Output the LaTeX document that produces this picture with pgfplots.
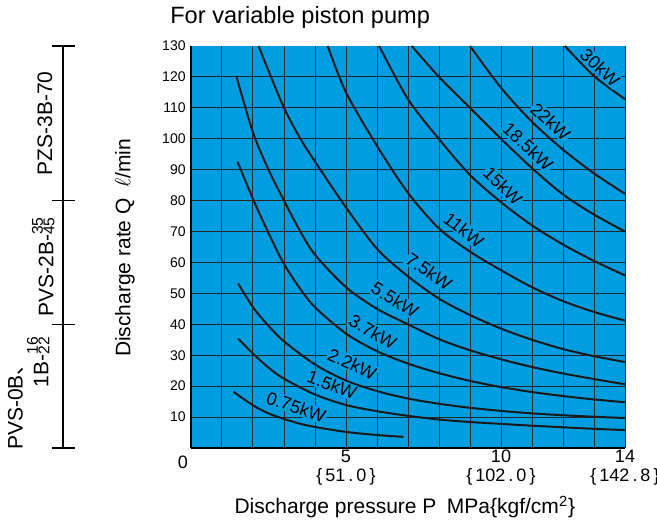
\documentclass[border=0pt]{standalone}
\usepackage{fontspec}
\setmainfont{Liberation Sans}
\newfontfamily\cjk{Noto Sans CJK JP}
\usepackage{pgfplots}
\pgfplotsset{compat=1.18}
\definecolor{bgblue}{RGB}{0,158,224}
\newcommand\stk[2]{\raisebox{-0.5pt}{\fontsize{7.8}{6.2}\selectfont\begin{tabular}[b]{@{}l@{}}#1\\[-1.5pt]#2\end{tabular}}}

\begin{document}
\begin{tikzpicture}
\path[use as bounding box] (-95.5pt,-35.5pt) rectangle (233pt,224pt);
\begin{axis}[
    at={(0,0)}, anchor=origin,
    width=217pt, height=201pt, scale only axis,
    xmin=0, xmax=14, ymin=0, ymax=130,
    axis background/.style={fill=bgblue},
    axis x line*=bottom, axis y line*=left,
    axis line style={line width=0.6pt, black, -},
    xtick={1,...,14},
    xticklabels={,,,,{5\\\{\,51\,.\,0\,\}},,,,,{10\\\{\,102\,.\,0\,\}},,,,{14\\\{\,142\,.\,8\,\}}},
    ytick={10,20,...,120},
    extra y ticks={130}, extra y tick style={grid=none},
    grid=major, major grid style={black!85, line width=0.5pt},
    major tick length=0pt,
    xticklabel style={align=center, font=\fontsize{9}{9.5}\selectfont, inner sep=1pt},
    yticklabel style={font=\fontsize{7}{7}\selectfont, inner sep=2.5pt},
    /pgf/number format/assume math mode=true,
    clip=false,
    kw/.style={black!90, line width=1pt, smooth, mark=none},
  ]
  % 0.75 kW
  \addplot[kw] coordinates {(1.37,18.2)(2,13.8)(2.5,11.2)(3,9.4)(3.5,7.9)(4,6.8)(5,5.2)(6,4.2)(6.85,3.6)};
  % 1.5 kW
  \addplot[kw] coordinates {(1.52,35.4)(2,30.5)(2.5,26)(3,22.4)(4,17.3)(5,13.9)(6,11.9)(7,10.4)(8,9.2)(9,8.4)(10,7.8)(11,7.2)(12,6.7)(13,6.2)(14,5.8)};
  % 2.2 kW
  \addplot[kw] coordinates {(1.52,53.2)(2,45.5)(2.5,39.5)(3,34.5)(4,27)(5,21.8)(6,18.4)(7,16)(8,14.3)(9,13)(10,12)(11,11.2)(12,10.6)(13,10.1)(14,9.7)};
  % 3.7 kW
  \addplot[kw] coordinates {(1.5,92.6)(2,80.5)(2.5,69.5)(3,59.5)(3.5,51.8)(4,45.5)(5,37)(6,31.3)(7,27.3)(8,24.2)(9,21.7)(10,19.7)(11,18.1)(12,16.8)(13,15.7)(14,14.8)};
  % 5.5 kW
  \addplot[kw] coordinates {(1.47,120)(2,102)(2.5,90)(3,80)(3.5,70.5)(4,62.5)(5,52)(6,45)(7,40)(8,35.2)(9,31.6)(10,28.7)(11,26.2)(12,24.1)(13,22.3)(14,20.6)};
  % 7.5 kW
  \addplot[kw] coordinates {(2.18,130)(2.5,122)(3,110)(3.5,100.5)(4,92.6)(5,77.8)(6,64.4)(7,55.5)(8,48.3)(9,43)(10,38.6)(11,35)(12,32)(13,29.7)(14,27.8)};
  % 11 kW
  \addplot[kw] coordinates {(4.41,130)(5,115)(6,97.7)(7,82.5)(8,71)(9,63.5)(10,57.5)(11,52)(12,47.5)(13,44)(14,41.2)};
  % 15 kW
  \addplot[kw] coordinates {(6.07,130)(7,112.8)(8,99.9)(9,88.3)(10,79.5)(11,72)(12,65.8)(13,60.5)(14,55.8)};
  % 18.5 kW
  \addplot[kw] coordinates {(7.12,130)(8,120)(9,110)(10,100)(11,90.5)(12,82)(13,75.5)(14,70)};
  % 22 kW
  \addplot[kw] coordinates {(9,130)(10,116.5)(11,105.5)(12,96.5)(13,88.8)(14,82.2)};
  % 30 kW
  \addplot[kw] coordinates {(12.06,130)(13,120.3)(14,112.8)};

  % curve labels
  \begin{scope}[every node/.style={fill=bgblue, inner sep=0.6pt, font=\fontsize{9}{9}\selectfont}]
    \node[rotate=-19] at (axis cs:3.39,13.3) {0.75kW};
    \node[rotate=-21] at (axis cs:4.55,20.4) {1.5kW};
    \node[rotate=-25] at (axis cs:5.2,27.2) {2.2kW};
    \node[rotate=-30] at (axis cs:5.87,37.5) {3.7kW};
    \node[rotate=-32] at (axis cs:6.58,47.9) {5.5kW};
    \node[rotate=-35] at (axis cs:7.68,57) {7.5kW};
    \node[rotate=-38] at (axis cs:8.8,70.5) {11kW};
    \node[rotate=-45] at (axis cs:10.06,84.8) {15kW};
    \node[rotate=-43] at (axis cs:10.87,97.4) {18.5kW};
    \node[rotate=-42] at (axis cs:11.6,105.5) {22kW};
    \node[rotate=-43] at (axis cs:13.2,123) {30kW};
  \end{scope}

  % origin label, title, axis titles
  \node[font=\fontsize{9}{9}\selectfont] at (axis cs:-0.26,-4.5) {0};
  \node[anchor=west, inner sep=0pt, font=\fontsize{11.8}{12}\selectfont] at (axis cs:-0.68,139.1) {For variable piston pump};
  \node[rotate=90, font=\fontsize{10.5}{11}\selectfont] at (axis cs:-2.13,64.7) {Discharge rate Q\enspace$\ell$/min};
  \node[font=\fontsize{10.5}{11}\selectfont] at (axis cs:6.9,-19.1) {Discharge pressure P\enspace MPa\{kgf/cm\textsuperscript{2}\}};

  % pump model ranges on the left
  \draw[line width=0.6pt] (axis cs:-4.13,0) -- (axis cs:-4.13,130);
  \draw[line width=0.6pt] (axis cs:-4.48,0) -- (axis cs:-3.74,0);
  \draw[line width=0.6pt] (axis cs:-4.48,40) -- (axis cs:-3.74,40);
  \draw[line width=0.6pt] (axis cs:-4.48,80) -- (axis cs:-3.74,80);
  \draw[line width=0.6pt] (axis cs:-4.48,130) -- (axis cs:-3.74,130);
  \begin{scope}[every node/.style={rotate=90, font=\fontsize{10.5}{11}\selectfont}]
    \node at (axis cs:-4.71,105) {PZS-3B-70};
    \node at (axis cs:-4.71,58.5) {PVS-2B-\stk{35}{45}};
    \node at (axis cs:-5.65,14.9) {PVS-0B{\cjk 、}};
    \node at (axis cs:-4.87,27.8) {1B-\stk{16}{22}};
  \end{scope}
\end{axis}
\end{tikzpicture}
\end{document}
